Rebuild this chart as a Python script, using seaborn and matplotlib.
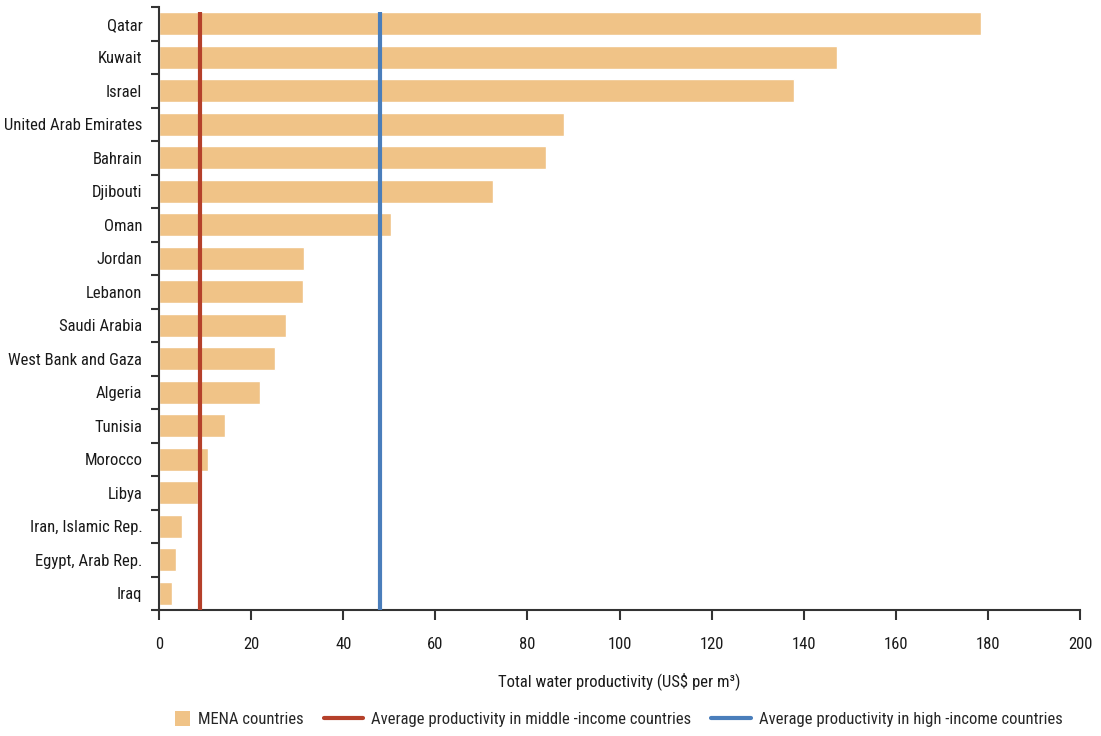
import numpy as np
import pandas as pd
import matplotlib
matplotlib.use("Agg")
import matplotlib.pyplot as plt
import seaborn as sns
from matplotlib.lines import Line2D
from matplotlib.patches import Patch, Rectangle
from matplotlib.legend_handler import HandlerPatch
from matplotlib.ticker import FixedLocator

# Data
countries = [
    "Qatar", "Kuwait", "Israel", "United Arab Emirates", "Bahrain", "Djibouti",
    "Oman", "Jordan", "Lebanon", "Saudi Arabia", "West Bank and Gaza", "Algeria",
    "Tunisia", "Morocco", "Libya", "Iran, Islamic Rep.", "Egypt, Arab Rep.", "Iraq",
]
productivity = [
    178.5, 147.3, 137.8, 87.9, 84.0, 72.5,
    50.3, 31.5, 31.3, 27.6, 25.2, 21.9,
    14.3, 10.6, 8.5, 5.0, 3.7, 2.8,
]
middle_income_avg = 8.8
high_income_avg = 48.0

xticks = list(range(0, 201, 20))

bar_color = "#F0C387"
red = "#B5402A"
blue = "#4A7EBB"

df = pd.DataFrame({"Country": countries, "Productivity": productivity})

sns.set_theme(style="white")
plt.rcParams["font.family"] = ["Roboto Condensed", "Liberation Sans Narrow",
                               "Liberation Sans", "DejaVu Sans"]
plt.rcParams["axes.edgecolor"] = "#333333"

fs = 12


class SquareHandler(HandlerPatch):
    # small square sitting at the right end of the handle box
    def create_artists(self, legend, orig_handle, xdescent, ydescent,
                       width, height, fontsize, trans):
        size = height * 1.25
        p = Rectangle((width - xdescent - size, (height - size) / 2 - ydescent),
                      size, size, facecolor=orig_handle.get_facecolor(),
                      edgecolor="none", transform=trans)
        return [p]


fig = plt.figure(figsize=(11.01, 7.36), dpi=100)
ax = fig.add_axes([0.1444, 0.171, 0.8366, 0.8195])

bar_h = 0.69
sns.barplot(data=df, x="Productivity", y="Country", orient="h",
            color=bar_color, saturation=1, width=bar_h, ax=ax)

n = len(countries)
ax.set_ylim(n - 0.5, -0.5)
ax.set_xlim(0, 200)

ax.vlines(middle_income_avg, n - 0.5, -bar_h / 2, color=red, lw=3, zorder=3)
ax.vlines(high_income_avg, n - 0.5, -bar_h / 2, color=blue, lw=3, zorder=3)

# spines
for s in ["top", "right"]:
    ax.spines[s].set_visible(False)
for s in ["left", "bottom"]:
    ax.spines[s].set_linewidth(1.5)
    ax.spines[s].set_color("#333333")

# y ticks: labels at bar centres, tick marks between categories
ax.tick_params(axis="y", which="major", length=0, pad=12, labelsize=fs,
               colors="#1a1a1a")
ax.yaxis.set_minor_locator(FixedLocator(np.arange(-0.5, n, 1.0)))
ax.tick_params(axis="y", which="minor", length=6, width=1.5, color="#333333",
               left=True)
ax.set_ylabel("")

ax.set_xticks(xticks)
ax.tick_params(axis="x", which="major", length=7, width=1.5, color="#333333",
               bottom=True, labelsize=fs, pad=12, labelcolor="#1a1a1a")
ax.set_xlabel("Total water productivity (US$ per m\u00b3)", fontsize=fs,
              labelpad=15, color="#1a1a1a")

mena = Patch(facecolor=bar_color, edgecolor="none", label="MENA countries")
handles = [
    mena,
    Line2D([0], [0], color=red, lw=3, label="Average productivity in middle -income countries"),
    Line2D([0], [0], color=blue, lw=3, label="Average productivity in high -income countries"),
]
fig.legend(handles=handles, loc="center", bbox_to_anchor=(0.551, 0.022), ncol=3,
           frameon=False, fontsize=fs, handlelength=2.35, handleheight=0.7,
           columnspacing=1.2, handletextpad=0.5,
           handler_map={Patch: SquareHandler()})

fig.savefig("out.png", dpi=100)
